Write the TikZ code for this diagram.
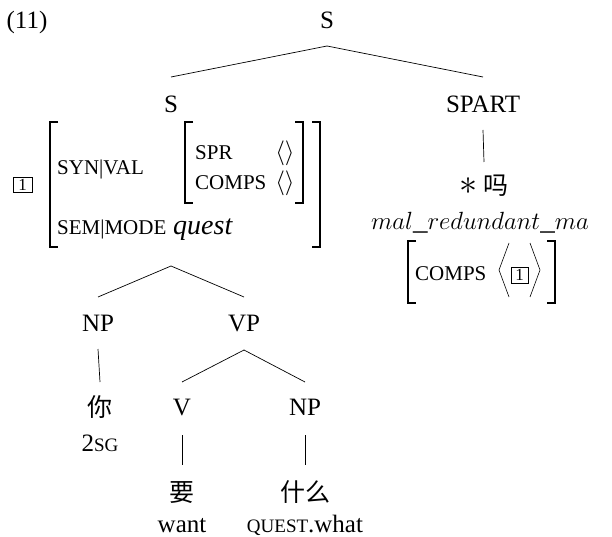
\documentclass[tikz,border=0pt]{standalone}
\usepackage{fontspec}
\setmainfont{Liberation Serif}
\newfontfamily\cjk{Noto Sans CJK SC}
\newcommand\avmsc[1]{{\fontsize{21}{21}\selectfont #1}}
\newcommand\glsc[1]{{\fontsize{19}{19}\selectfont #1}}
\begin{document}
\begin{tikzpicture}[x=1pt,y=-1pt,
  every node/.style={font=\fontsize{25}{25}\selectfont, inner sep=0pt},
  lab/.style={text height=17pt, text depth=0pt},
  zh/.style={lab, font=\fontsize{25}{25}\selectfont\cjk},
  edge/.style={line width=0.7pt},
  brk/.style={line width=1.1pt},
  ang/.style={line width=0.6pt},
  tagbox/.style={draw, line width=0.6pt, minimum width=19pt, minimum height=15pt, font=\fontsize{17}{17}\selectfont}]
\useasboundingbox (0,0) rectangle (612,537);

% labels
\node[lab] (ex) at (27,20) {(11)};
\node[lab] (s0) at (327,20) {S};
\node[lab] (s1) at (171,104) {S};
\node[lab] (spart) at (483,104) {SPART};

\draw[edge] ([yshift=-26pt]s0.center) -- ([yshift=27pt]s1.center);
\draw[edge] ([yshift=-26pt]s0.center) -- ([yshift=27pt]spart.center);

% AVM of S
\node[tagbox] (tag1) at (22.5,184.5) {1};
\draw[brk] (58,122) -- (50,122) -- (50,247) -- (58,247);
\draw[brk] (312,122) -- (320,122) -- (320,247) -- (312,247);
\draw[brk] (193,122) -- (185,122) -- (185,203) -- (193,203);
\draw[brk] (295,122) -- (303,122) -- (303,203) -- (295,203);
\node[anchor=base west] (synval) at (57,174.5) {\avmsc{SYN|VAL}};
\node[anchor=base west] (spr) at (195,159.5) {\avmsc{SPR}};
\node[anchor=base west] (comps1) at (195,189.5) {\avmsc{COMPS}};
\node[anchor=base] (sprv) at (285,159.5) {$\langle\rangle$};
\node[anchor=base] (compsv) at (285,189.5) {$\langle\rangle$};
\node[anchor=base west] (semmode) at (57,234.5) {\avmsc{SEM|MODE}};
\node[anchor=base west] (quest) at (173,234.5) {\fontsize{28}{28}\selectfont\itshape quest};
\coordinate (s1b) at (171,266);

% SPART side
\node[zh] (ma) at (484,186) {\scalebox{1.45}{$*$}\ 吗};
\draw[edge] ([yshift=-26pt]spart.center) -- ([yshift=24pt]ma.center);
\node[lab, font=\fontsize{29}{29}\selectfont] (mal) at (480,221) {$mal\_redundant\_ma$};
\draw[brk] (416,241) -- (408,241) -- (408,303) -- (416,303);
\draw[brk] (547,241) -- (555,241) -- (555,303) -- (547,303);
\node[anchor=base west] (comps2) at (415,280) {\avmsc{COMPS}};
\node[tagbox, minimum width=17pt, minimum height=16pt] (tag2) at (519.5,275) {1};
\draw[ang] (509,243) -- (499,270) -- (509,297);
\draw[ang] (530,243) -- (540,270) -- (530,297);

% lower tree
\node[lab] (np1) at (98,323) {NP};
\node[lab] (vp) at (244,323) {VP};
\draw[edge] (s1b) -- ([yshift=26pt]np1.center);
\draw[edge] (s1b) -- ([yshift=26pt]vp.center);

\node[zh] (ni) at (100,408) {你};
\draw[edge] ([yshift=-26pt]np1.center) -- ([yshift=26pt]ni.center);
\node[lab] (ni-g) at (100,442.5) {2\glsc{SG}};

\node[lab] (v) at (182,407) {V};
\node[lab] (np2) at (305,407) {NP};
\draw[edge] ([yshift=-27pt]vp.center) -- ([yshift=25pt]v.center);
\draw[edge] ([yshift=-27pt]vp.center) -- ([yshift=25pt]np2.center);

\node[zh] (yao) at (182,493) {要};
\node[zh] (shenme) at (305,493) {什么};
\draw[edge] ([yshift=-28pt]v.center) -- ([yshift=28pt]yao.center);
\draw[edge] ([yshift=-28pt]np2.center) -- ([yshift=28pt]shenme.center);

\node[lab] (want) at (182,524) {want};
\node[lab] (what) at (305,524) {\glsc{QUEST}.what};
\end{tikzpicture}
\end{document}
